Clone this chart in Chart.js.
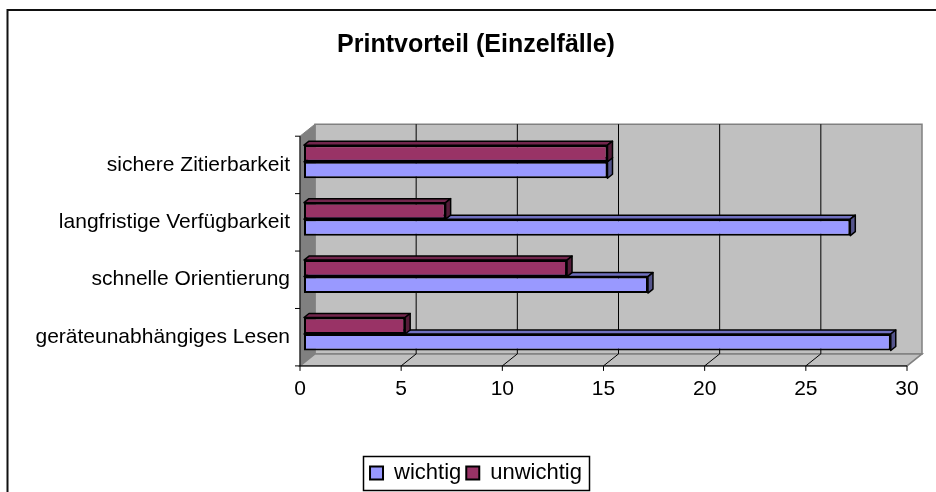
<!DOCTYPE html>
<html>
<head>
<meta charset="utf-8">
<script src="https://cdn.jsdelivr.net/npm/chart.js@4/dist/chart.umd.min.js"></script>
<style>
html,body{margin:0;padding:0;background:#fff;overflow:hidden;width:936px;height:492px;}
canvas{display:block;}
</style>
</head>
<body>
<canvas id="c" width="952" height="492"></canvas>
<script>
// ---- data ----
const categories = ['sichere Zitierbarkeit', 'langfristige Verfügbarkeit', 'schnelle Orientierung', 'geräteunabhängiges Lesen'];
const wichtig = [15, 27, 17, 29];
const unwichtig = [15, 7, 13, 5];
const xTickValues = [0, 5, 10, 15, 20, 25, 30];
const seriesNames = ['wichtig', 'unwichtig'];
const chartTitle = 'Printvorteil (Einzelfälle)';

// ---- style ----
const FONT = "'Liberation Sans', Arial, sans-serif";
const BLUE = '#9999FF', BLUE_TOP = '#7070C0', BLUE_SIDE = '#55558C';
const RED = '#993366', RED_TOP = '#73264D', RED_SIDE = '#551C39';
const WALL = '#C0C0C0', SIDEWALL = '#808080', EDGE = '#808080';
const FRONT = {x: -4, y: 3.2};   // front plane offset from bar plane
const BACK = {x: 11, y: -8.8};   // back plane offset from bar plane
const BAR_D = {x: 5, y: -4};     // bar depth

function poly(ctx, pts, fill, stroke, lw) {
  ctx.beginPath();
  ctx.moveTo(pts[0][0], pts[0][1]);
  for (let i = 1; i < pts.length; i++) ctx.lineTo(pts[i][0], pts[i][1]);
  ctx.closePath();
  if (fill) { ctx.fillStyle = fill; ctx.fill(); }
  if (stroke) { ctx.strokeStyle = stroke; ctx.lineWidth = lw || 1; ctx.stroke(); }
}
function line(ctx, x1, y1, x2, y2, color, lw) {
  ctx.beginPath(); ctx.moveTo(x1, y1); ctx.lineTo(x2, y2);
  ctx.strokeStyle = color; ctx.lineWidth = lw || 1; ctx.stroke();
}

const excel3d = {
  id: 'excel3d',
  afterLayout(chart) {
    // let the category labels use the free space on the left (avoid label clipping)
    const ys = chart.scales.y;
    ys.left = 0;
  },
  beforeDraw(chart) {
    const ctx = chart.ctx;
    ctx.save();
    ctx.fillStyle = '#fff';
    ctx.fillRect(0, 0, chart.width, chart.height);
    ctx.strokeStyle = '#111';
    ctx.lineWidth = 2;
    ctx.strokeRect(7.5, 10, 3000, 3000);
    ctx.restore();
  },
  beforeDatasetsDraw(chart) {
    const ctx = chart.ctx;
    const {left, right, top, bottom} = chart.chartArea;
    const xs = chart.scales.x, ys = chart.scales.y;
    ctx.save();
    // back wall
    poly(ctx, [[left + BACK.x, top + BACK.y], [right + BACK.x, top + BACK.y], [right + BACK.x, bottom + BACK.y], [left + BACK.x, bottom + BACK.y]], WALL, EDGE, 1.5);
    // left side wall
    poly(ctx, [[left + FRONT.x, top + FRONT.y], [left + BACK.x, top + BACK.y], [left + BACK.x, bottom + BACK.y], [left + FRONT.x, bottom + FRONT.y]], SIDEWALL, EDGE, 1);
    // floor
    poly(ctx, [[left + FRONT.x, bottom + FRONT.y], [right + FRONT.x, bottom + FRONT.y], [right + BACK.x, bottom + BACK.y], [left + BACK.x, bottom + BACK.y]], WALL, EDGE, 1.5);
    // gridlines
    xTickValues.forEach(v => {
      const px = xs.getPixelForValue(v);
      if (v !== xs.min && v !== xs.max) {
        line(ctx, px + BACK.x, top + BACK.y, px + BACK.x, bottom + BACK.y, '#000', 1);
        line(ctx, px + FRONT.x, bottom + FRONT.y, px + BACK.x, bottom + BACK.y, '#000', 1);
      }
      line(ctx, px + FRONT.x, bottom + FRONT.y, px + FRONT.x, bottom + FRONT.y + 5, '#000', 1);
    });
    // front axes
    line(ctx, left + FRONT.x, bottom + FRONT.y, right + FRONT.x, bottom + FRONT.y, '#000', 1);
    line(ctx, left + FRONT.x, top + FRONT.y, left + FRONT.x, bottom + FRONT.y, '#000', 1);
    const band = (ys.getPixelForValue(1) - ys.getPixelForValue(0));
    for (let i = 0; i <= categories.length; i++) {
      const py = ys.getPixelForValue(0) - band / 2 + i * band + FRONT.y;
      line(ctx, left + FRONT.x - 5, py, left + FRONT.x, py, '#000', 1);
    }
    ctx.restore();
  },
  afterDatasetDraw(chart, args) {
    const ctx = chart.ctx;
    const ds = chart.data.datasets[args.index];
    ctx.save();
    ctx.lineJoin = 'round';
    args.meta.data.forEach(el => {
      const p = el.getProps(['x', 'y', 'base', 'height'], true);
      const t = p.y - p.height / 2, b = p.y + p.height / 2;
      const l = Math.min(p.base, p.x), r = Math.max(p.base, p.x);
      poly(ctx, [[l, t], [l + BAR_D.x, t + BAR_D.y], [r + BAR_D.x, t + BAR_D.y], [r, t]], ds.topColor, '#000', 1.5);
      poly(ctx, [[r, t], [r + BAR_D.x, t + BAR_D.y], [r + BAR_D.x, b + BAR_D.y], [r, b]], ds.sideColor, '#000', 1.5);
    });
    ctx.restore();
  },
  afterDraw(chart) {
    const lg = chart.legend;
    if (!lg || !lg.legendHitBoxes || !lg.legendHitBoxes.length) return;
    const hb = lg.legendHitBoxes;
    const first = hb[0], last = hb[hb.length - 1];
    const ctx = chart.ctx;
    ctx.save();
    ctx.strokeStyle = '#000';
    ctx.lineWidth = 1.5;
    const x1 = first.left - 7, x2 = last.left + last.width + 7;
    const y1 = first.top - 6, y2 = first.top + first.height + 6;
    ctx.strokeRect(Math.round(x1) + 0.5, Math.round(y1) + 0.5, Math.round(x2 - x1), Math.round(y2 - y1));
    ctx.restore();
  }
};

new Chart(document.getElementById('c'), {
  type: 'bar',
  data: {
    labels: categories,
    datasets: [
      {label: seriesNames[1], data: unwichtig, backgroundColor: RED, topColor: RED_TOP, sideColor: RED_SIDE,
       borderColor: '#000', borderWidth: 2, borderSkipped: false},
      {label: seriesNames[0], data: wichtig, backgroundColor: BLUE, topColor: BLUE_TOP, sideColor: BLUE_SIDE,
       borderColor: '#000', borderWidth: 2, borderSkipped: false}
    ]
  },
  options: {
    indexAxis: 'y',
    responsive: false,
    animation: false,
    events: [],
    categoryPercentage: 0.575,
    barPercentage: 1,
    layout: {padding: {left: 41, right: 41, top: 0, bottom: -2}},
    scales: {
      x: {
        min: 0, max: 30,
        afterBuildTicks(s) { s.ticks = xTickValues.map(v => ({value: v})); },
        grid: {display: false, drawTicks: false},
        border: {display: false},
        ticks: {font: {family: FONT, size: 21}, color: '#000', padding: 13.7, labelOffset: -4, autoSkip: false, maxRotation: 0},
        afterFit(s) { s.height = 94.3; }
      },
      y: {
        grid: {display: false, drawTicks: false},
        border: {display: false},
        ticks: {font: {family: FONT, size: 21}, color: '#000', padding: 14, labelOffset: 3, autoSkip: false},
        afterFit(s) { s.width = 263; }
      }
    },
    plugins: {
      title: {display: true, text: chartTitle, color: '#000',
              font: {family: FONT, size: 25, weight: 'bold'}, padding: {top: 30, bottom: 73}},
      legend: {position: 'bottom',
               labels: {font: {family: FONT, size: 22}, color: '#000', boxWidth: 13, boxHeight: 13, padding: 5,
                        sort: (a, b) => b.datasetIndex - a.datasetIndex}},
      tooltip: {enabled: false}
    }
  },
  plugins: [excel3d]
});
</script>
</body>
</html>
